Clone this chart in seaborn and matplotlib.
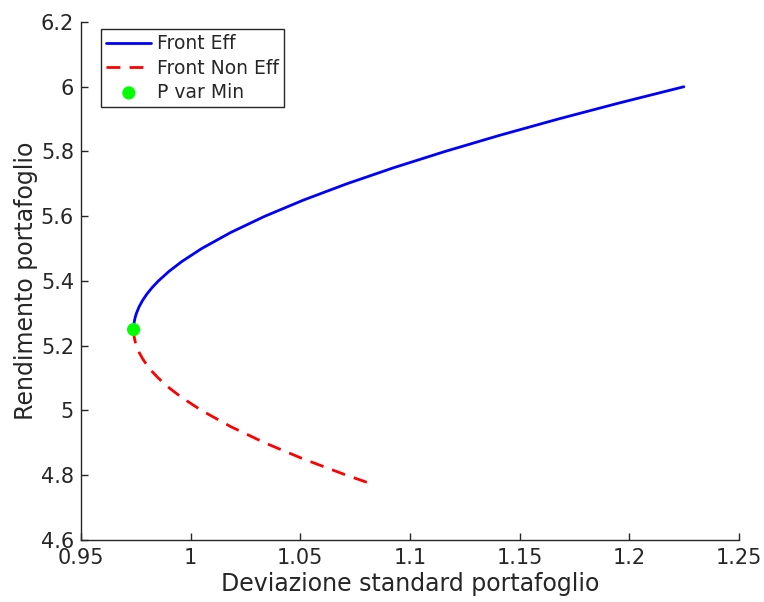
import matplotlib
matplotlib.use("Agg")
import matplotlib.pyplot as plt
import seaborn as sns
import pandas as pd

# Efficient frontier: portfolio return and its standard deviation
eff_return = [5.250, 5.255, 5.260, 5.270, 5.280, 5.290, 5.300, 5.320, 5.340, 5.360,
              5.380, 5.400, 5.430, 5.460, 5.500, 5.550, 5.600, 5.650, 5.700, 5.750,
              5.800, 5.850, 5.900, 5.950, 6.000]
eff_std = [0.97400, 0.97402, 0.97406, 0.97421, 0.97446, 0.97482, 0.97527, 0.97648,
           0.97809, 0.98009, 0.98249, 0.98528, 0.99019, 0.99597, 1.00499, 1.01833,
           1.03386, 1.05150, 1.07115, 1.09268, 1.11600, 1.14100, 1.16755, 1.19557,
           1.22495]

# Inefficient branch below the minimum-variance portfolio
ineff_return = [5.250, 5.245, 5.240, 5.230, 5.220, 5.210, 5.200, 5.180, 5.160, 5.140,
                5.120, 5.100, 5.070, 5.040, 5.000, 4.950, 4.900, 4.850, 4.800, 4.770]
ineff_std = [0.97400, 0.97402, 0.97406, 0.97421, 0.97446, 0.97482, 0.97527, 0.97648,
             0.97809, 0.98009, 0.98249, 0.98528, 0.99019, 0.99597, 1.00499, 1.01833,
             1.03386, 1.05150, 1.07115, 1.08385]

# Minimum-variance portfolio
minvar_std = [0.974]
minvar_return = [5.25]

x_ticks = [0.95, 1.0, 1.05, 1.1, 1.15, 1.2, 1.25]
x_ticklabels = ["0.95", "1", "1.05", "1.1", "1.15", "1.2", "1.25"]
y_ticks = [4.6, 4.8, 5.0, 5.2, 5.4, 5.6, 5.8, 6.0, 6.2]
y_ticklabels = ["4.6", "4.8", "5", "5.2", "5.4", "5.6", "5.8", "6", "6.2"]

sns.set_theme(style="ticks")
plt.rcParams["font.family"] = ["DejaVu Sans"]

df_eff = pd.DataFrame({"std": eff_std, "ret": eff_return})
df_ineff = pd.DataFrame({"std": ineff_std, "ret": ineff_return})
df_min = pd.DataFrame({"std": minvar_std, "ret": minvar_return})

fig = plt.figure(figsize=(7.64, 6.02), dpi=100)
ax = fig.add_axes([0.106, 0.103, 0.861, 0.8605])

sns.lineplot(data=df_eff, x="std", y="ret", sort=False, estimator=None,
             color="#0000ff", linewidth=2.0, label="Front Eff", ax=ax)
sns.lineplot(data=df_ineff, x="std", y="ret", sort=False, estimator=None,
             color="#ff0000", linewidth=2.0, label="Front Non Eff", ax=ax)
ax.lines[-1].set_dashes([5, 3.3])
sns.scatterplot(data=df_min, x="std", y="ret", color="#00ff00", s=90,
                edgecolor="none", label="P var Min", ax=ax, zorder=5)

ax.set_xlim(0.95, 1.25)
ax.set_ylim(4.6, 6.2)
ax.set_xticks(x_ticks)
ax.set_xticklabels(x_ticklabels)
ax.set_yticks(y_ticks)
ax.set_yticklabels(y_ticklabels)

ax.set_xlabel("Deviazione standard portafoglio", fontsize=17, color="#262626",
              labelpad=3)
ax.set_ylabel("Rendimento portafoglio", fontsize=17, color="#262626",
              labelpad=2)
ax.tick_params(direction="in", length=5, width=1, labelsize=15,
               colors="#262626")
ax.tick_params(axis="x", pad=6)
ax.tick_params(axis="y", pad=5)

for side in ("top", "right"):
    ax.spines[side].set_visible(False)
for side in ("left", "bottom"):
    ax.spines[side].set_color("#262626")
    ax.spines[side].set_linewidth(1.0)

leg = ax.legend(loc="upper left", bbox_to_anchor=(0.03, 0.987), fontsize=13.5,
                frameon=True, fancybox=False, framealpha=1, edgecolor="#262626",
                handlelength=2.4, handletextpad=0.3, borderpad=0.3,
                labelspacing=0.28, borderaxespad=0)
leg.get_frame().set_linewidth(1.0)

fig.savefig("out.png", dpi=100, facecolor="white")
